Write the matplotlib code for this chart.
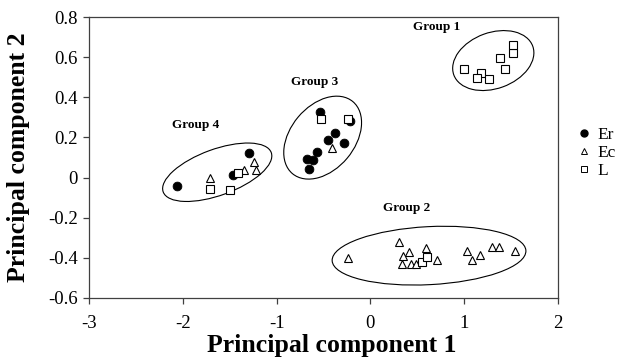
import matplotlib
matplotlib.use("Agg")
import matplotlib.pyplot as plt
from matplotlib.patches import Ellipse
from matplotlib.lines import Line2D
from matplotlib.transforms import ScaledTranslation

plt.rcParams['font.family'] = ['Liberation Serif', 'DejaVu Serif']

# Data (principal component scores)
er_x = [-0.537, -0.218, -0.377, -0.449, -0.281, -0.573, -0.673, -0.615, -0.655,
        -2.065, -1.29, -1.46]
er_y = [0.325, 0.283, 0.223, 0.187, 0.173, 0.128, 0.095, 0.087, 0.042,
        -0.043, 0.123, 0.015]

ec_x = [-0.406, -1.71, -1.238, -1.344, -1.22,
        -0.236, 0.305, 0.415, 0.343, 0.333, 0.43, 0.486, 0.593, 0.607, 0.706,
        1.032, 1.079, 1.168, 1.30, 1.371, 1.545]
ec_y = [0.145, 0.0, 0.078, 0.037, 0.037,
        -0.402, -0.323, -0.372, -0.393, -0.43, -0.43, -0.43, -0.35, -0.389, -0.41,
        -0.367, -0.41, -0.384, -0.344, -0.344, -0.364]

l_x = [1.0, 1.18, 1.14, 1.26, 1.38, 1.43, 1.517, 1.52,
       -0.53, -0.242,
       -1.71, -1.497, -1.41,
       0.546, 0.607]
l_y = [0.54, 0.523, 0.495, 0.49, 0.597, 0.54, 0.62, 0.66,
       0.293, 0.29,
       -0.057, -0.063, 0.023,
       -0.42, -0.394]

series_names = ['Er', 'Ec', 'L']

group_names = ['Group 1', 'Group 2', 'Group 3', 'Group 4']
group_label_x = [0.71, 0.39, -0.59, -1.86]
group_label_y = [0.749, -0.154, 0.476, 0.264]

# ellipse annotations: centre (data), semi-axes (px), angle (deg)
ell_cx = [1.31, 0.625, -0.509, -1.633]
ell_cy = [0.583, -0.389, 0.199, 0.0265]
ell_a = [42, 97, 47, 57.5]
ell_b = [28, 29, 32, 23]
ell_ang = [20, 3, 50, 20]

xticks = [-3, -2, -1, 0, 1, 2]
yticks = [-0.6, -0.4, -0.2, 0, 0.2, 0.4, 0.6, 0.8]

fig = plt.figure(figsize=(6.21, 3.60), dpi=100)
ax = fig.add_axes([89/621, 1-298/360, (558-89)/621, (298-17)/360])

ax.plot(er_x, er_y, linestyle='none', marker='o', ms=6.3, mfc='black', mec='black', mew=0.6, zorder=3)
ax.plot(ec_x, ec_y, linestyle='none', marker='^', ms=5.8, mfc='white', mec='black', mew=0.8, zorder=3)
ax.plot(l_x, l_y, linestyle='none', marker='s', ms=5.3, mfc='white', mec='black', mew=0.8, zorder=3)

ax.set_xlim(-3, 2)
ax.set_ylim(-0.6, 0.8)
ax.set_xticks(xticks)
ax.set_yticks(yticks)
ax.set_xticklabels([f'{t:g}' for t in xticks])
ax.set_yticklabels(['0' if t == 0 else f'{t:.1f}' for t in yticks])

for cx, cy, a, b, ang in zip(ell_cx, ell_cy, ell_a, ell_b, ell_ang):
    tr = fig.dpi_scale_trans + ScaledTranslation(cx, cy, ax.transData)
    e = Ellipse((0, 0), width=2*a/100, height=2*b/100, angle=ang,
                transform=tr, fill=False, edgecolor='black', lw=0.8, zorder=2)
    ax.add_patch(e)

for name, gx, gy in zip(group_names, group_label_x, group_label_y):
    ax.text(gx, gy, name, fontsize=9.5, fontweight='bold', ha='center', va='center')

for s in ax.spines.values():
    s.set_color('#404040')
    s.set_linewidth(0.9)
ax.tick_params(direction='out', length=4, width=0.9, color='#404040',
               labelsize=13.5, top=False, right=False)
ax.tick_params(axis='x', pad=8)
ax.tick_params(axis='y', pad=4)

ax.set_xlabel('Principal component 1', fontsize=18.5, fontweight='bold')
ax.set_ylabel('Principal component 2', fontsize=18.5, fontweight='bold')
ax.xaxis.set_label_coords(0.518, -0.127)
ax.yaxis.set_label_coords(-0.125, 0.5)

handles = [
    Line2D([], [], linestyle='none', marker='o', ms=5, mfc='black', mec='black'),
    Line2D([], [], linestyle='none', marker='^', ms=4.2, mfc='white', mec='black', mew=0.7),
    Line2D([], [], linestyle='none', marker='s', ms=4.2, mfc='white', mec='black', mew=0.7),
]
ax.legend(handles, series_names, loc='center left', bbox_to_anchor=(1.025, 0.515),
          frameon=False, fontsize=12.5, handlelength=0.8, handletextpad=0.4,
          labelspacing=0.1, borderaxespad=0)

fig.savefig('out.png', dpi=100)
